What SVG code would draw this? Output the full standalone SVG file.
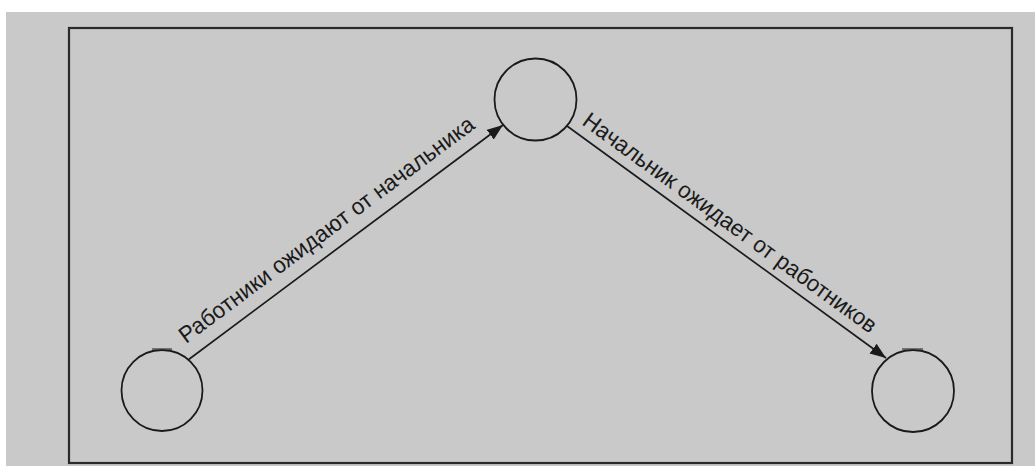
<svg xmlns="http://www.w3.org/2000/svg" width="1035" height="466" viewBox="0 0 1035 466">
  <style>
    .node { fill: none; stroke: #1a1a1a; stroke-width: 1.8; }
    .edge { fill: none; stroke: #1a1a1a; stroke-width: 1.7; }
    .tick { fill: none; stroke: #3a3a3a; stroke-width: 1.2; }
    .label { font-family: "Liberation Sans", Arial, sans-serif; font-size: 23px; fill: #1a1a1a; }
  </style>
  <defs>
    <marker id="arrow" markerUnits="userSpaceOnUse" markerWidth="17" markerHeight="13" refX="16" refY="6" orient="auto">
      <path d="M0,0 L16,6 L0,12 z" fill="#1a1a1a"/>
    </marker>
  </defs>
  <rect x="0" y="0" width="1035" height="466" fill="#ffffff"/>
  <rect x="6" y="12" width="1029" height="454" fill="#c9c9c9"/>
  <rect id="frame" x="69" y="28" width="943" height="435" fill="none" stroke="#2a2a2a" stroke-width="2.2"/>

  <g id="connectors">
    <g id="edge-workers-boss">
      <line class="edge" x1="188" y1="360" x2="503" y2="125" marker-end="url(#arrow)"/>
      <text class="label" transform="translate(186,344) rotate(-36.7)" textLength="362" lengthAdjust="spacingAndGlyphs">Работники ожидают от начальника</text>
    </g>
    <g id="edge-boss-workers">
      <line class="edge" x1="567" y1="126" x2="886" y2="358" marker-end="url(#arrow)"/>
      <text class="label" transform="translate(581,124) rotate(36)" textLength="357" lengthAdjust="spacingAndGlyphs">Начальник ожидает от работников</text>
    </g>
  </g>

  <g id="node-workers">
    <circle class="node" cx="162" cy="390.5" r="40.5"/>
    <line class="tick" x1="152" y1="349" x2="172" y2="349"/>
  </g>
  <g id="node-boss">
    <circle class="node" cx="535.5" cy="99.5" r="41"/>
  </g>
  <g id="node-workers-right">
    <circle class="node" cx="913" cy="391" r="41"/>
    <line class="tick" x1="902" y1="349" x2="923" y2="349"/>
  </g>
</svg>
